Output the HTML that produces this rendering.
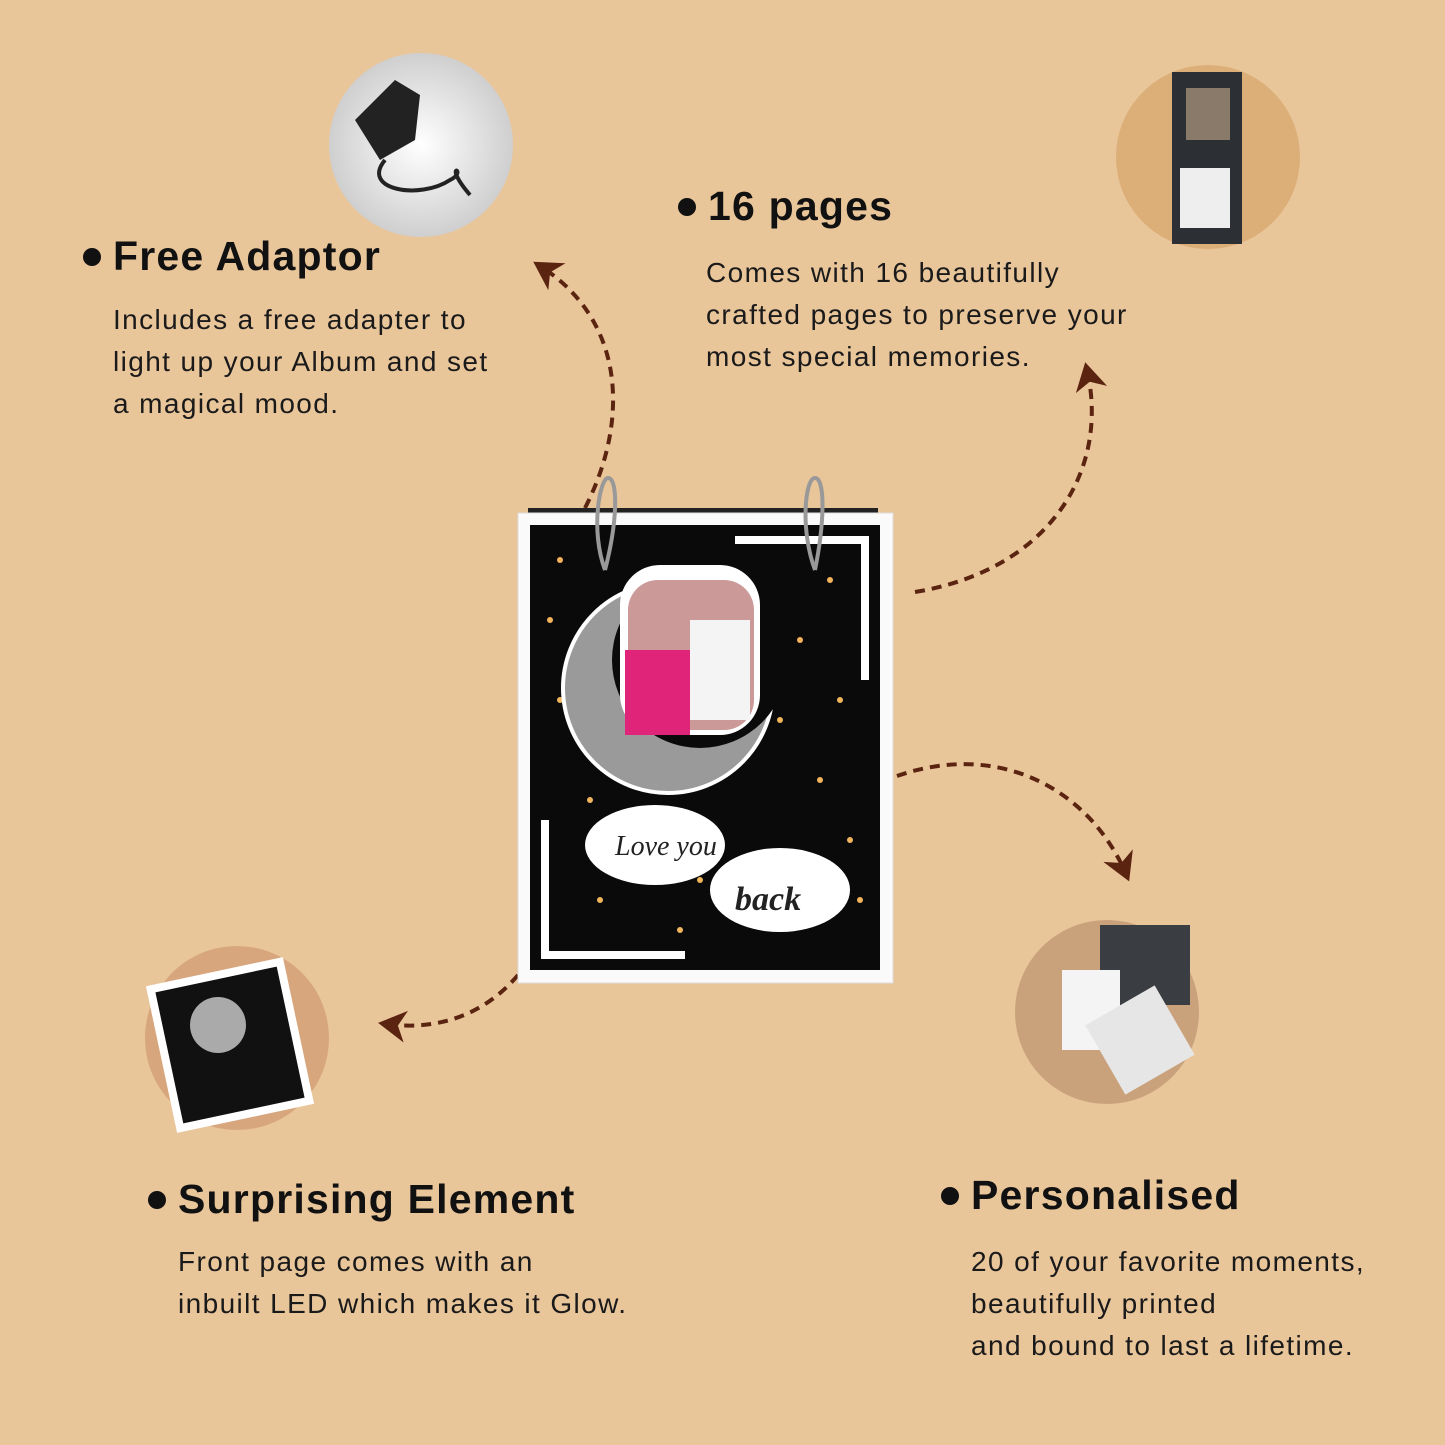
<!DOCTYPE html>
<html><head><meta charset="utf-8"><style>
html,body{margin:0;padding:0}
body{width:1445px;height:1445px;background:#E9C59A;position:relative;overflow:hidden;font-family:"Liberation Sans",sans-serif;color:#111}
.h{position:absolute;font-weight:bold;font-size:41px;line-height:48px;white-space:nowrap;letter-spacing:1.2px}
.h:before{content:"";position:absolute;left:-30px;top:16px;width:18px;height:18px;border-radius:50%;background:#111}
.p{position:absolute;font-size:28px;line-height:42px;white-space:nowrap;color:#1a1a1a;letter-spacing:1.4px}
</style></head><body>
<svg width="1445" height="1445" style="position:absolute;left:0;top:0">
<defs>
<marker id="a" markerWidth="8" markerHeight="8" refX="5" refY="4" orient="auto" markerUnits="strokeWidth">
<path d="M0,0 L7,4 L0,8 L2,4 Z" fill="#5a2410"/></marker>
<radialGradient id="g1"><stop offset="0" stop-color="#fff"/><stop offset="1" stop-color="#cfcfcf"/></radialGradient>
</defs>
<g fill="none" stroke="#5a2410" stroke-width="4" stroke-dasharray="10,7">
<path d="M585,508 C630,420 625,320 540,266" marker-end="url(#a)"/>
<path d="M915,592 C1050,570 1110,470 1087,370" marker-end="url(#a)"/>
<path d="M897,776 C1000,740 1090,790 1126,874" marker-end="url(#a)"/>
<path d="M518,975 C480,1020 430,1030 386,1024" marker-end="url(#a)"/>
</g>
<circle cx="421" cy="145" r="92" fill="url(#g1)"/>
<path d="M355,120 L395,80 L420,95 L415,140 L380,160 Z" fill="#222"/>
<path d="M385,160 C360,190 420,200 450,180 C470,170 440,160 470,195" stroke="#222" stroke-width="4" fill="none"/>
<circle cx="1208" cy="157" r="92" fill="#dcae78"/>
<rect x="1172" y="72" width="70" height="172" fill="#2c2f33"/>
<rect x="1186" y="88" width="44" height="52" fill="#8a7a6a"/>
<rect x="1180" y="168" width="50" height="60" fill="#eee"/>
<circle cx="237" cy="1038" r="92" fill="#d8a67c"/>
<rect x="160" y="970" width="140" height="150" fill="#fff" transform="rotate(-12 230 1045)"/>
<rect x="168" y="978" width="124" height="134" fill="#111" transform="rotate(-12 230 1045)"/>
<circle cx="218" cy="1025" r="28" fill="#aaa"/>
<circle cx="1107" cy="1012" r="92" fill="#c9a27c"/>
<rect x="1100" y="925" width="90" height="80" fill="#3a3d42"/>
<rect x="1062" y="970" width="58" height="80" fill="#f4f4f4"/>
<rect x="1100" y="1000" width="80" height="80" fill="#e6e6e6" transform="rotate(-30 1140 1040)"/>
<rect x="528" y="508" width="350" height="8" fill="#222"/>
<rect x="518" y="513" width="375" height="470" fill="#fafafa" stroke="#ddd"/>
<rect x="530" y="525" width="350" height="445" fill="#0a0a0a"/>
<g fill="#f2b55c">
<circle cx="560" cy="560" r="3"/><circle cx="760" cy="600" r="3"/><circle cx="800" cy="640" r="3"/><circle cx="840" cy="700" r="3"/>
<circle cx="820" cy="780" r="3"/><circle cx="850" cy="840" r="3"/><circle cx="600" cy="900" r="3"/><circle cx="680" cy="930" r="3"/>
<circle cx="560" cy="700" r="3"/><circle cx="590" cy="800" r="3"/><circle cx="780" cy="720" r="3"/><circle cx="860" cy="900" r="3"/>
<circle cx="700" cy="880" r="3"/><circle cx="550" cy="620" r="3"/><circle cx="830" cy="580" r="3"/><circle cx="640" cy="955" r="3"/>
</g>
<path d="M735,540 L865,540 L865,680" stroke="#fff" stroke-width="8" fill="none"/>
<path d="M545,820 L545,955 L685,955" stroke="#fff" stroke-width="8" fill="none"/>
<circle cx="668" cy="688" r="105" fill="#9a9a9a" stroke="#fff" stroke-width="4"/>
<circle cx="700" cy="660" r="88" fill="#0a0a0a"/>
<rect x="620" y="565" width="140" height="170" rx="40" fill="#fff"/>
<rect x="628" y="580" width="126" height="150" rx="30" fill="#c99"/>
<rect x="625" y="650" width="65" height="85" fill="#e0247a"/>
<rect x="690" y="620" width="60" height="100" fill="#f4f4f4"/>
<ellipse cx="655" cy="845" rx="70" ry="40" fill="#fff"/>
<ellipse cx="780" cy="890" rx="70" ry="42" fill="#fff"/>
<text x="615" y="855" font-family="Liberation Serif" font-style="italic" font-size="28" fill="#222">Love you</text>
<text x="735" y="910" font-family="Liberation Serif" font-style="italic" font-weight="bold" font-size="34" fill="#222">back</text>
<path d="M605,570 C590,530 600,478 608,478 C618,478 618,520 605,570" stroke="#999" stroke-width="4" fill="none"/>
<path d="M815,570 C800,530 805,478 815,478 C825,478 825,520 815,570" stroke="#999" stroke-width="4" fill="none"/>
</svg>
<div class="h" style="left:113px;top:232px">Free Adaptor</div>
<div class="p" style="left:113px;top:299px">Includes a free adapter to<br>light up your Album and set<br>a magical mood.</div>
<div class="h" style="left:708px;top:182px">16 pages</div>
<div class="p" style="left:706px;top:252px">Comes with 16 beautifully<br>crafted pages to preserve your<br>most special memories.</div>
<div class="h" style="left:178px;top:1175px">Surprising Element</div>
<div class="p" style="left:178px;top:1241px">Front page comes with an<br>inbuilt LED which makes it Glow.</div>
<div class="h" style="left:971px;top:1171px">Personalised</div>
<div class="p" style="left:971px;top:1241px">20 of your favorite moments,<br>beautifully printed<br>and bound to last a lifetime.</div>
</body></html>
